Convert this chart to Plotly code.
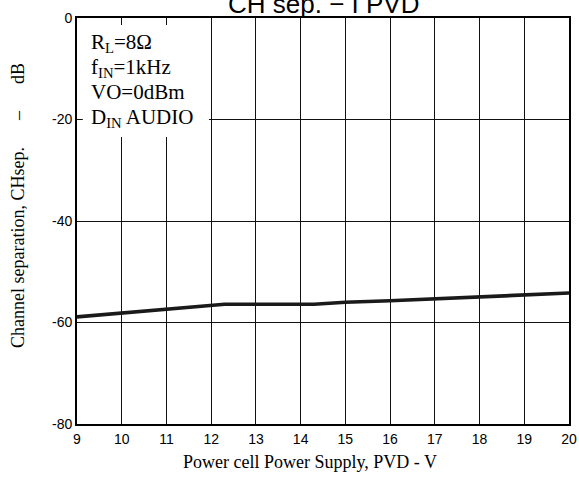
import plotly.graph_objects as go

pvd = [9, 10, 11, 12, 12.3, 14.3, 15, 16, 17, 18, 19, 20]
chsep = [-58.9, -58.1, -57.3, -56.6, -56.4, -56.4, -56.0, -55.7, -55.3, -54.9, -54.6, -54.2]
x_ticks = list(range(9, 21))
y_ticks = [0, -20, -40, -60, -80]
box_lines = ["R<sub>L</sub>=8Ω", "f<sub>IN</sub>=1kHz", "VO=0dBm", "D<sub>IN</sub> AUDIO"]
box_line_y = [-5.0, -9.8, -14.6, -19.7]

SERIF = "Liberation Serif, Times New Roman, serif"
SANS = "Liberation Sans, Arial, sans-serif"
NB = "\u00a0"

fig = go.Figure()
fig.add_trace(go.Scatter(x=pvd, y=chsep, mode="lines",
                         line=dict(color="#1a1a1a", width=3.6), showlegend=False))

fig.update_layout(
    width=579, height=477,
    margin=dict(l=77, r=10, t=18, b=53),
    paper_bgcolor="white", plot_bgcolor="white",
    xaxis=dict(range=[9, 20], tickvals=x_ticks, ticktext=[str(v) for v in x_ticks],
               showgrid=True, gridcolor="#111", gridwidth=1.2,
               showline=True, linecolor="black", linewidth=1.8, mirror=True,
               ticks="", zeroline=False, automargin=False, ticklabelstandoff=1,
               tickfont=dict(family=SANS, size=14, color="black")),
    yaxis=dict(range=[-80, 0], tickvals=y_ticks, ticktext=[str(v) for v in y_ticks],
               showgrid=True, gridcolor="#111", gridwidth=1.2,
               showline=True, linecolor="black", linewidth=1.8, mirror=True,
               ticks="", zeroline=False, automargin=False, ticklabelstandoff=0,
               tickfont=dict(family=SANS, size=14, color="black")),
)

# white backing box behind the condition text
fig.add_shape(type="rect", xref="x", yref="y", x0=9.13, x1=11.95, y0=-23.45, y1=-1.38,
              fillcolor="white", line=dict(width=0), layer="above")

for txt, yv in zip(box_lines, box_line_y):
    fig.add_annotation(xref="x", yref="y", x=9.27, y=yv, xanchor="left", yanchor="middle",
                       showarrow=False, text=txt,
                       font=dict(family=SERIF, size=21, color="black"))

# clipped chart title at the top
fig.add_annotation(xref="paper", yref="paper", x=0.5, y=1, yshift=-3, xanchor="center", yanchor="bottom",
                   showarrow=False, text="CH sep. − I PVD",
                   font=dict(family=SANS, size=26, color="black"))

# axis titles
fig.add_annotation(xref="paper", yref="paper", x=(310 - 77) / 492, y=0, yshift=-38,
                   xanchor="center", yanchor="middle", showarrow=False,
                   text="Power cell Power Supply, PVD - V",
                   font=dict(family=SERIF, size=18, color="black"))
fig.add_annotation(xref="paper", yref="paper", x=0, xshift=-59, y=(424 - 206) / 406,
                   xanchor="center", yanchor="middle", textangle=-90, showarrow=False,
                   text="Channel separation, CHsep." + NB * 6 + "–" + NB * 6 + "dB",
                   font=dict(family=SERIF, size=18, color="black"))

fig.write_html("out.html", config={"displayModeBar": False},
               post_script="document.body.style.margin='0px';")
